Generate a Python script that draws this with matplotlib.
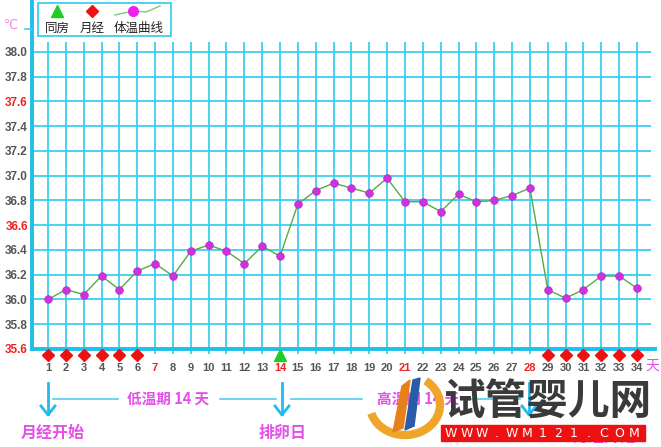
import matplotlib
matplotlib.use("Agg")
import matplotlib.pyplot as plt
from matplotlib.patches import Rectangle, Arc, Polygon
from matplotlib.lines import Line2D

plt.rcParams['font.family'] = ['Noto Sans CJK SC', 'DejaVu Sans']

# data
days = list(range(1, 35))
temps = [36.00, 36.08, 36.04, 36.19, 36.08, 36.23, 36.29, 36.19, 36.39, 36.44,
         36.39, 36.29, 36.43, 36.35, 36.77, 36.88, 36.94, 36.90, 36.86, 36.98,
         36.79, 36.79, 36.71, 36.85, 36.79, 36.80, 36.84, 36.90, 36.08, 36.01,
         36.08, 36.19, 36.19, 36.09]
period_days = [1, 2, 3, 4, 5, 6, 29, 30, 31, 32, 33, 34]
sex_days = [14]
red_days = [7, 14, 21, 28]
y_ticks = [35.6, 35.8, 36.0, 36.2, 36.4, 36.6, 36.8, 37.0, 37.2, 37.4, 37.6, 37.8, 38.0]
red_y = [35.6, 36.6, 37.6]

W, H = 661, 447
fig = plt.figure(figsize=(W / 100, H / 100), dpi=100)

def px(x, y):
    return (x / W, 1 - y / H)

cyan = '#3ccff0'
pink = '#e450e8'

ax = fig.add_axes([32 / W, (H - 349) / H, (655 - 32) / W, 349 / H])
ax.set_xlim(0.1035, 35.0085)
ax.set_ylim(35.6, 38.42)
ax.patch.set_alpha(0)
for s in ['top', 'right']:
    ax.spines[s].set_visible(False)
for s in ['left', 'bottom']:
    ax.spines[s].set_color('#1ec0e8')
    ax.spines[s].set_linewidth(2.8)
ax.spines['left'].set_zorder(5)
ax.spines['bottom'].set_zorder(5)

# grid
ax.vlines(days, 35.56, 38.08, color=cyan, lw=1.3, zorder=1, clip_on=False)
ax.hlines(y_ticks[1:], 0.1035, 34.78, color=cyan, lw=1.3, zorder=1)

# temperature curve
ax.plot(days, temps, color='#55aa44', lw=1, zorder=3)
ax.plot(days, temps, 'o', color='#cc33dd', markersize=5.5, markeredgecolor='#bb22cc',
        markeredgewidth=0.5, zorder=4)

# y tick labels
ax.set_yticks(y_ticks)
ax.set_yticklabels([f'{v:.1f}' for v in y_ticks], fontweight='bold', fontsize=8.5,
                   family='Liberation Sans')
for lab, v in zip(ax.get_yticklabels(), y_ticks):
    lab.set_color('#ee2222' if v in red_y else '#555555')
ax.tick_params(axis='y', length=0, pad=3)
ax.set_xticks([])

# x labels and markers below the axis
for d in days:
    ax.text(d, 35.446, str(d), ha='center', va='center', fontsize=8, fontweight='bold',
            family='Liberation Sans', color='#ee2222' if d in red_days else '#555555',
            clip_on=False)
ax.plot(period_days, [35.552] * len(period_days), 'D', color='#ee1111', markersize=6,
        clip_on=False, zorder=6)
ax.plot(sex_days, [35.548] * len(sex_days), '^', color='#22cc22', markersize=8,
        clip_on=False, zorder=6)

fig.text(*px(652, 366), '天', color=pink, fontsize=10, ha='center', va='center')
fig.text(*px(11, 25), '℃', color='#ee88dd', fontsize=9, ha='center', va='center',
         family=['DejaVu Sans'])
fig.add_artist(Line2D([25 / W, 32 / W], [1 - 29 / H, 1 - 29 / H], color=cyan, lw=1.2))

# legend box
fig.add_artist(Rectangle(px(38, 36), 133 / W, 33 / H, fill=False, edgecolor=cyan, lw=1.3))
fig.add_artist(Line2D([57 / W], [1 - 11 / H], marker='^', color='#22cc22', markersize=8))
fig.add_artist(Line2D([92 / W], [1 - 11 / H], marker='D', color='#ee1111', markersize=6))
lx = [115, 133, 146, 160]
ly = [15, 11, 12, 6]
fig.add_artist(Line2D([x / W for x in lx], [1 - y / H for y in ly], color='#77cc77', lw=1))
fig.add_artist(Line2D([133 / W], [1 - 11 / H], marker='o', color='#ee22ee', markersize=7))
fig.text(*px(57, 28), '同房', fontsize=9, ha='center', va='center', color='#222222')
fig.text(*px(92, 28), '月经', fontsize=9, ha='center', va='center', color='#222222')
fig.text(*px(139, 28), '体温曲线', fontsize=9, ha='center', va='center', color='#222222')

# phase annotations below
def arrow(x):
    fig.add_artist(Line2D([x / W, x / W], [1 - 383 / H, 1 - 414 / H], color='#22bbee',
                          lw=2, zorder=1))
    fig.add_artist(Line2D([(x - 7) / W, x / W, (x + 7) / W],
                          [1 - 406 / H, 1 - 415 / H, 1 - 406 / H], color='#22bbee',
                          lw=2, zorder=1))

for x in [48, 282, 529]:
    arrow(x)
for x0, x1 in [(53, 118), (220, 276), (291, 362), (470, 520)]:
    fig.add_artist(Line2D([x0 / W, x1 / W], [1 - 399 / H] * 2, color='#55ccee', lw=1.2,
                          zorder=1))
fig.text(*px(168, 399), '低温期 14 天', fontsize=10.5, ha='center', va='center',
         color=pink, fontweight='bold', zorder=1)
fig.text(*px(418, 399), '高温期 14 天', fontsize=10.5, ha='center', va='center',
         color=pink, fontweight='bold', zorder=1)
fig.text(*px(53, 433), '月经开始', fontsize=11.5, ha='center', va='center',
         color=pink, fontweight='bold', zorder=1)
fig.text(*px(283, 433), '排卵日', fontsize=11.5, ha='center', va='center',
         color=pink, fontweight='bold', zorder=1)
fig.text(*px(605, 437), '月经开始', fontsize=11.5, ha='center', va='center',
         color=pink, fontweight='bold', zorder=1)

# watermark on top
fig.add_artist(Arc(px(405, 405), 70 / W, 60 / H, theta1=200, theta2=420,
                   color='#f0a428', lw=6, zorder=10))
fig.add_artist(Polygon([px(393, 432), px(402, 386), px(410, 380), px(403, 428)],
                       closed=True, color='#e8801a', zorder=10))
fig.add_artist(Polygon([px(405, 430), px(413, 380), px(420, 378), px(414, 426)],
                       closed=True, color='#2a5ca8', zorder=10))
fig.text(*px(548, 402), '试管婴儿网', fontsize=30, ha='center', va='center',
         color='#3a3a3a', fontweight='bold', zorder=10)
fig.add_artist(Rectangle(px(441, 441), 204 / W, 16 / H, color='#ee1111', zorder=10))
site = 'WWW.WM121.COM'
for i, ch in enumerate(site):
    fig.text(*px(451 + i * 15.3, 433.5), ch, fontsize=9, ha='center', va='center',
             color='white', family='DejaVu Sans', zorder=11)

fig.savefig('out.png', dpi=100)
